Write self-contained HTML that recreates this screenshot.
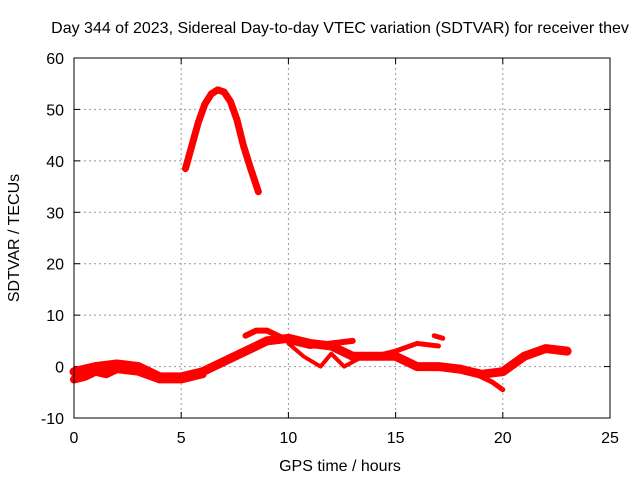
<!DOCTYPE html>
<html><head><meta charset="utf-8"><style>
body{margin:0;background:#fff;font-family:"Liberation Sans",sans-serif}
svg text{font-family:"Liberation Sans",sans-serif;font-size:16px;fill:#000}
</style></head><body>
<svg id="chart" width="640" height="480">
<rect width="640" height="480" fill="#fff"/>
<text x="340" y="33" text-anchor="middle">Day 344 of 2023, Sidereal Day-to-day VTEC variation (SDTVAR) for receiver thev</text>
<text x="340" y="471" text-anchor="middle">GPS time / hours</text>
<text transform="translate(19,238) rotate(-90)" text-anchor="middle">SDTVAR / TECUs</text>
<g id="grid"></g><g id="marks"></g>
<rect x="74" y="58" width="536" height="360" fill="none" stroke="#000"/>
</svg>
<script>
const xTicks=[0,5,10,15,20,25];
const yTicks=[-10,0,10,20,30,40,50,60];
const peakHours=[5.2,5.5,5.8,6.1,6.4,6.7,7.0,7.3,7.6,7.9,8.2,8.6];
const peakVals=[38.5,43,47.5,51,53,53.8,53.4,51.5,48,43,39,34];
const mainHours=[0,0.5,1,2,3,4,5,6,7,8,9,10,11,12,13,14,15,16,17,18,19,20,21,22,23];
const mainVals=[-1,-0.5,0,0.5,0,-2,-2,-1,1,3,5,5.5,4.5,4,2,2,2,0,0,-0.5,-1.5,-1,2,3.5,3];
const lowHours=[0,0.5,1,1.5,2,3,4,5,6];
const lowVals=[-2.5,-2,-1,-1.5,-0.5,-1,-2.5,-2.5,-1.5];
const upHours=[8,8.5,9,10,11,12,13];
const upVals=[6,7,7,5,4,4.5,5];
const dropHours=[10,10.7,11.5,12,12.6,13.5];
const dropVals=[4.5,2,0,2.5,0,2];
const midHours=[14,15,16,17];
const midVals=[2,3,4.5,4];
const blobHours=[16.8,17.2];
const blobVals=[6,5.5];
const tailHours=[17.5,18.5,19.5,20];
const tailVals=[0,-1,-3,-4.5];
const x0=74,x1=610,yTop=58,yBot=418;
const X=h=>x0+(h-0)/25*(x1-x0);
const Y=v=>yBot-(v+10)/70*(yBot-yTop);
const NS="http://www.w3.org/2000/svg";
const g=document.getElementById('grid'),m=document.getElementById('marks');
function el(t,a,p){const e=document.createElementNS(NS,t);for(const k in a)e.setAttribute(k,a[k]);p.appendChild(e);return e;}
xTicks.forEach(t=>{
 if(t>0&&t<25){const l=el('line',{x1:X(t),x2:X(t),y1:yTop,y2:yBot,stroke:'#999','stroke-dasharray':'2,3'},g);
 
 }
 el('line',{x1:X(t),x2:X(t),y1:yBot,y2:yBot-6,stroke:'#000'},g);
 el('line',{x1:X(t),x2:X(t),y1:yTop,y2:yTop+6,stroke:'#000'},g);
 const tx=el('text',{x:X(t),y:yBot+25,'text-anchor':'middle'},g);tx.textContent=t;
 
 
});
yTicks.forEach(t=>{
 if(t>-10&&t<60){const l=el('line',{x1:x0,x2:x1,y1:Y(t),y2:Y(t),stroke:'#999','stroke-dasharray':'2,3'},g);
 
 }
 el('line',{x1:x0,x2:x0+6,y1:Y(t),y2:Y(t),stroke:'#000'},g);
 el('line',{x1:x1,x2:x1-6,y1:Y(t),y2:Y(t),stroke:'#000'},g);
 const tx=el('text',{x:x0-10,y:Y(t)+6,'text-anchor':'end'},g);tx.textContent=t;
 
 
});
function series(hs,vs,w,name){
 const p=el('polyline',{points:hs.map((h,i)=>X(h)+','+Y(vs[i])).join(' '),fill:'none',stroke:'#f00','stroke-width':w,'stroke-linejoin':'round','stroke-linecap':'round'},m);
 
 
}
series(peakHours,peakVals,7,'peak-series');
series(mainHours,mainVals,9,'main-series');
series(lowHours,lowVals,8,'low-series');
series(upHours,upVals,6,'upper-series');
series(dropHours,dropVals,4,'drop-series');
series(midHours,midVals,5,'mid-series');
series(blobHours,blobVals,5,'blob-series');
series(tailHours,tailVals,5,'tail-series');
</script>
</body></html>
